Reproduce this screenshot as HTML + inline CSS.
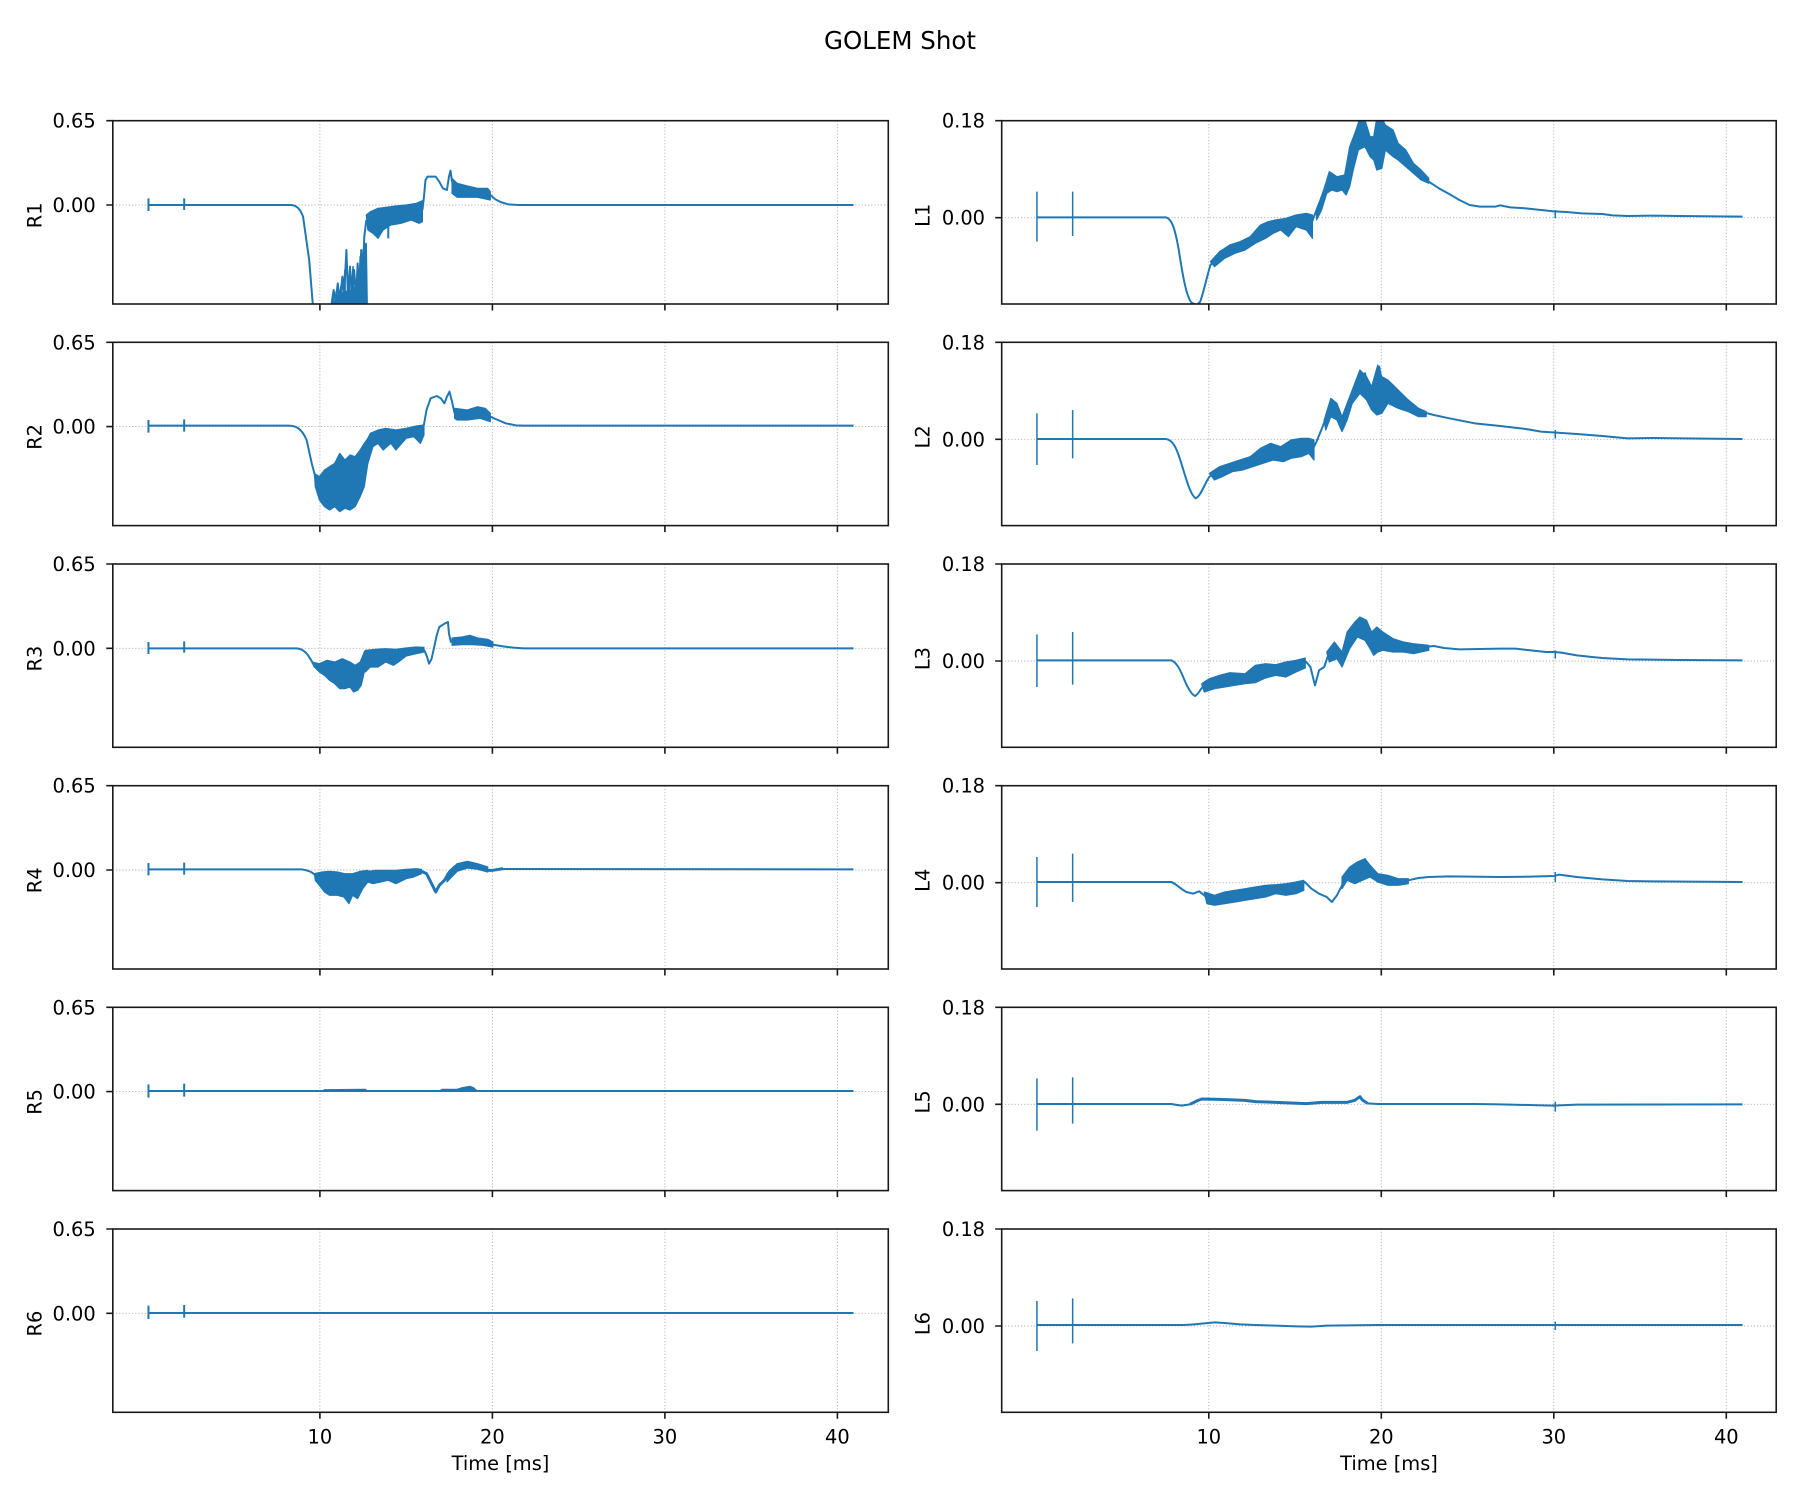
<!DOCTYPE html>
<html><head><meta charset="utf-8"><style>
html,body{margin:0;padding:0;background:#fff;}
svg{display:block;}
text{font-family:"DejaVu Sans","Liberation Sans",sans-serif;fill:#000;}
.tk{font-size:19.4px;}
.g{stroke:#b0b0b0;stroke-width:0.9;stroke-dasharray:1.2,2;fill:none;}
.sp{fill:none;stroke:#1a1a1a;stroke-width:1.6;}
.t{stroke:#1a1a1a;stroke-width:1.6;}
.d path{fill:none;stroke:#1f77b4;stroke-width:2;vector-effect:non-scaling-stroke;stroke-linejoin:round;}
.d path.f{fill:#1f77b4;stroke-width:1.2;}
.d path.k{stroke-width:3;}
.d path.s{stroke-width:1.5;}
</style></head><body>
<svg width="1800" height="1500" viewBox="0 0 1800 1500" xmlns="http://www.w3.org/2000/svg">
<rect width="1800" height="1500" fill="#fff"/>
<defs>
<clipPath id="c00"><rect x="112.8" y="120.7" width="775.5" height="183.3"/></clipPath>
<clipPath id="c10"><rect x="112.8" y="342.3" width="775.5" height="183.3"/></clipPath>
<clipPath id="c20"><rect x="112.8" y="564" width="775.5" height="183.3"/></clipPath>
<clipPath id="c30"><rect x="112.8" y="785.7" width="775.5" height="183.3"/></clipPath>
<clipPath id="c40"><rect x="112.8" y="1007.3" width="775.5" height="183.3"/></clipPath>
<clipPath id="c50"><rect x="112.8" y="1229" width="775.5" height="183.3"/></clipPath>
<clipPath id="c01"><rect x="1001.7" y="120.7" width="774.5" height="183.3"/></clipPath>
<clipPath id="c11"><rect x="1001.7" y="342.3" width="774.5" height="183.3"/></clipPath>
<clipPath id="c21"><rect x="1001.7" y="564" width="774.5" height="183.3"/></clipPath>
<clipPath id="c31"><rect x="1001.7" y="785.7" width="774.5" height="183.3"/></clipPath>
<clipPath id="c41"><rect x="1001.7" y="1007.3" width="774.5" height="183.3"/></clipPath>
<clipPath id="c51"><rect x="1001.7" y="1229" width="774.5" height="183.3"/></clipPath>
</defs>

<text x="900" y="49" text-anchor="middle" style="font-size:24.5px">GOLEM Shot</text>

<!-- GRID -->
<g class="g">
<path d="M319.9,120.7V304M492.4,120.7V304M664.9,120.7V304M837.4,120.7V304M112.8,205H888.3"/>
<path d="M319.9,342.3V525.6M492.4,342.3V525.6M664.9,342.3V525.6M837.4,342.3V525.6M112.8,426.6H888.3"/>
<path d="M319.9,564V747.3M492.4,564V747.3M664.9,564V747.3M837.4,564V747.3M112.8,648.3H888.3"/>
<path d="M319.9,785.7V969M492.4,785.7V969M664.9,785.7V969M837.4,785.7V969M112.8,870H888.3"/>
<path d="M319.9,1007.3V1190.6M492.4,1007.3V1190.6M664.9,1007.3V1190.6M837.4,1007.3V1190.6M112.8,1091.6H888.3"/>
<path d="M319.9,1229V1412.3M492.4,1229V1412.3M664.9,1229V1412.3M837.4,1229V1412.3M112.8,1313.3H888.3"/>
<path d="M1208.8,120.7V304M1381.3,120.7V304M1553.8,120.7V304M1726.3,120.7V304M1001.7,217.7H1776.2"/>
<path d="M1208.8,342.3V525.6M1381.3,342.3V525.6M1553.8,342.3V525.6M1726.3,342.3V525.6M1001.7,439.3H1776.2"/>
<path d="M1208.8,564V747.3M1381.3,564V747.3M1553.8,564V747.3M1726.3,564V747.3M1001.7,661H1776.2"/>
<path d="M1208.8,785.7V969M1381.3,785.7V969M1553.8,785.7V969M1726.3,785.7V969M1001.7,882.7H1776.2"/>
<path d="M1208.8,1007.3V1190.6M1381.3,1007.3V1190.6M1553.8,1007.3V1190.6M1726.3,1007.3V1190.6M1001.7,1104.3H1776.2"/>
<path d="M1208.8,1229V1412.3M1381.3,1229V1412.3M1553.8,1229V1412.3M1726.3,1229V1412.3M1001.7,1326H1776.2"/>
</g>

<!-- R1 -->
<g clip-path="url(#c00)"><g class="d" transform="translate(100,110) scale(0.5102,0.33333)">
<path d="M95,285 L375,285 C385,287 392,295 398,320 L410,450 L418,600"/>
<path d="M452,600 L458,540 L462,575 L466,520 L470,578 L475,500 L478,570 L483,420 L486,560 L490,470 L494,575 L498,480 L502,560 L505,460 L508,540 L512,420 L515,500 L518,380 L522,330"/>
<path class="s" d="M455,600 L457,560 L460,600 L463,545 L467,600 L472,530 L474,600 L480,480 L481,600 L488,500 L490,600 L496,470 L497,600 L503,520 L506,600 L510,440 L511,600 L516,420 L517,600 L519,400 L520,600"/>
<path class="f" d="M455,590 L465,555 L480,545 L495,540 L505,520 L515,470 L522,400 L524,590 Z"/>
<path class="f" d="M522,315 L530,305 L545,295 L560,292 L580,288 L600,285 L620,280 L632,272 L632,335 L625,340 L610,330 L590,340 L570,345 L555,360 L545,385 L535,370 L525,360 Z"/>
<path d="M565,340 L565,385 M627,320 L627,340 M548,340 L548,360"/>
<path d="M632,300 L635,260 L638,210 L642,200 L658,200 L665,215 L672,235 L680,240 L684,200 L687,182 L690,215"/>
<path class="f" d="M690,205 L700,220 L720,228 L740,235 L760,235 L765,245 L765,270 L740,262 L720,262 L700,262 L690,250 Z"/>
<path d="M765,255 L775,268 L785,276 L800,283 L820,285 L1477,285"/>
<path d="M95,265 L95,303 M165,265 L165,300"/>
</g></g>

<!-- R2 -->
<g clip-path="url(#c10)"><g class="d" transform="translate(100,110) scale(0.5102,0.33333)">
<path d="M95,947 L370,947 C385,948 395,955 405,990 L415,1060 L422,1100"/>
<path class="f" d="M420,1090 L430,1100 L440,1080 L450,1070 L460,1060 L465,1045 L470,1030 L480,1050 L490,1035 L500,1040 L510,1020 L518,1000 L525,985 L525,1060 L518,1130 L510,1160 L500,1190 L490,1200 L480,1195 L470,1205 L460,1190 L450,1200 L440,1190 L430,1170 L422,1130 Z"/>
<path class="f" d="M525,985 L530,970 L545,960 L560,955 L580,960 L600,955 L620,948 L635,945 L635,975 L628,1000 L615,980 L600,985 L580,1020 L570,1000 L555,1020 L545,1000 L535,1010 L525,1060 Z"/>
<path d="M633,960 L640,900 L648,865 L660,858 L668,865 L675,880 L680,860 L685,845 L690,875 L695,910"/>
<path class="f" d="M695,895 L720,900 L740,890 L755,895 L765,910 L765,935 L745,925 L720,930 L700,930 L695,925 Z"/>
<path d="M765,920 L780,930 L795,940 L815,946 L830,947 L1477,947"/>
<path d="M95,930 L95,968 M165,928 L165,965"/>
</g></g>

<!-- R3 -->
<g clip-path="url(#c20)"><g class="d" transform="translate(100,552) scale(0.5102,0.33333)">
<path d="M95,289 L385,289 C395,290 405,300 412,320 L420,340"/>
<path class="f" d="M415,330 L430,335 L445,325 L460,330 L475,320 L490,330 L500,340 L510,330 L518,300 L518,360 L512,400 L505,415 L497,420 L490,405 L480,410 L470,410 L460,395 L450,385 L440,370 L430,360 L420,345 Z"/>
<path class="f" d="M518,300 L520,295 L540,292 L560,290 L580,292 L600,288 L620,285 L635,286 L635,300 L620,305 L600,312 L585,330 L575,340 L560,330 L545,345 L530,345 L520,360 Z"/>
<path d="M635,293 L640,310 L645,335 L650,320 L660,250 L665,225 L675,215 L682,210 L684,245 L688,272"/>
<path class="f" d="M690,258 L710,255 L725,250 L740,258 L760,262 L770,270 L770,285 L750,280 L730,278 L710,278 L690,280 Z"/>
<path d="M770,278 L790,283 L810,287 L830,289 L1477,289"/>
<path d="M95,270 L95,306 M165,268 L165,302"/>
</g></g>

<!-- R4 -->
<g clip-path="url(#c30)"><g class="d" transform="translate(100,552) scale(0.5102,0.33333)">
<path d="M95,952 L395,952 C410,955 418,962 425,975"/>
<path class="f" d="M420,965 L435,960 L450,958 L465,960 L480,965 L495,965 L510,958 L525,955 L525,990 L515,1010 L505,1040 L495,1030 L488,1055 L478,1035 L465,1030 L450,1030 L440,1020 L430,1000 L422,985 Z"/>
<path class="f" d="M525,958 L540,955 L560,955 L580,955 L600,952 L620,950 L630,952 L630,965 L615,975 L600,980 L580,995 L565,985 L550,990 L535,995 L525,990 Z"/>
<path class="k" d="M630,958 L640,965 L650,995 L658,1020 L665,1000 L675,985 L685,960 L695,945 L705,938 L718,932 L730,935 L745,945 L760,955 L770,955 L790,950"/>
<path class="f" d="M680,965 L700,935 L720,928 L740,935 L760,945 L760,960 L740,952 L720,948 L700,958 L680,990 Z"/>
<path d="M790,951 L1477,952"/>
<path d="M95,933 L95,970 M165,932 L165,968"/>
</g></g>

<!-- R5 -->
<g clip-path="url(#c40)"><g class="d" transform="translate(100,995) scale(0.5102,0.33333)">
<path d="M95,288 L1477,288"/>
<path class="f" d="M435,289 L440,284 L520,283 L525,289 Z M665,289 L670,283 L700,283 L710,278 L725,274 L732,278 L740,289 Z"/>
<path d="M95,268 L95,308 M165,266 L165,305"/>
</g></g>

<!-- R6 -->
<g clip-path="url(#c50)"><g class="d" transform="translate(100,995) scale(0.5102,0.33333)">
<path d="M95,954 L1477,954"/>
<path d="M95,932 L95,972 M165,930 L165,968"/>
</g></g>

<!-- L1 -->
<g clip-path="url(#c01)"><g class="d" transform="translate(990,110) scale(0.5102,0.33333)">
<path d="M92,322 L345,322 C355,325 362,350 370,420 C378,500 385,560 395,578 L405,585 L412,575 C420,540 425,500 432,465 L445,445 L470,420 L490,405 L520,380 L545,350 L560,345 L580,350 L600,335 L620,325 L630,340 L635,320 L645,280 L655,250 L662,205 L670,205 L680,220 L690,215 L698,240 L705,150 L712,120 L720,60 L728,30 L738,90 L745,120 L752,140 L758,60 L762,25 L768,60 L775,80 L785,70 L795,120 L805,110 L815,150 L825,165 L840,195 L860,215 L880,235 L900,252 L920,270 L940,285 L960,290 L990,290 L1000,286 L1020,292 L1050,295 L1080,300 L1105,304 L1130,306 L1160,310 L1200,312 L1220,316 L1250,318 L1300,317 L1350,318 L1475,320"/>
<path class="f" d="M432,455 L450,425 L470,405 L490,395 L510,380 L530,345 L545,335 L560,330 L580,325 L600,315 L620,310 L632,315 L632,385 L620,360 L600,350 L585,380 L570,360 L555,370 L540,385 L520,400 L500,420 L480,430 L460,445 L440,470 Z"/>
<path class="f" d="M640,300 L655,235 L665,185 L680,200 L695,195 L705,110 L715,70 L725,25 L735,30 L745,80 L752,80 L758,25 L768,25 L775,45 L790,60 L800,100 L815,120 L830,160 L845,180 L860,205 L860,220 L845,210 L830,190 L815,170 L800,150 L790,140 L775,120 L768,175 L758,180 L752,150 L745,140 L735,110 L722,120 L712,180 L705,230 L698,255 L690,240 L680,245 L670,240 L660,250 L650,300 L640,330 Z"/>
<path class="s" d="M92,245 L92,395 M162,245 L162,378 M1108,300 L1108,325"/>
</g></g>

<!-- L2 -->
<g clip-path="url(#c11)"><g class="d" transform="translate(990,110) scale(0.5102,0.33333)">
<path d="M92,987 L345,987 C358,990 365,1010 375,1060 C385,1110 393,1155 403,1165 C412,1160 418,1130 430,1100 L450,1085 L470,1075 L495,1068 L520,1060 L540,1035 L560,1025 L580,1020 L600,1010 L620,1000 L632,1020 L640,995 L652,950 L665,895 L675,880 L682,930 L688,955 L695,920 L710,870 L722,800 L735,790 L745,850 L752,890 L758,860 L763,770 L768,820 L780,830 L795,850 L810,870 L825,895 L845,905 L870,915 L900,925 L950,940 L1000,948 L1050,957 L1080,965 L1110,968 L1150,972 L1200,978 L1250,985 L1300,984 L1400,986 L1475,987"/>
<path class="f" d="M430,1090 L450,1070 L470,1060 L490,1050 L510,1040 L530,1015 L550,1000 L570,1010 L590,990 L610,985 L625,985 L635,990 L635,1050 L625,1030 L610,1040 L590,1045 L575,1055 L555,1050 L535,1060 L515,1070 L495,1080 L475,1085 L455,1100 L440,1110 Z"/>
<path class="f" d="M655,930 L668,865 L680,880 L690,920 L700,880 L715,820 L725,780 L738,800 L748,830 L760,765 L768,800 L780,810 L800,840 L820,870 L840,895 L855,905 L855,920 L840,920 L820,905 L800,895 L780,880 L768,910 L758,915 L748,900 L738,870 L725,850 L710,880 L700,930 L690,965 L680,930 L668,920 L658,960 Z"/>
<path class="s" d="M92,910 L92,1065 M162,900 L162,1045 M1108,960 L1108,985"/>
</g></g>

<!-- L3 -->
<g clip-path="url(#c21)"><g class="d" transform="translate(990,552) scale(0.5102,0.33333)">
<path d="M92,325 L355,325 C365,330 372,350 380,380 C388,410 395,428 402,432 C410,425 412,410 420,400 L440,390 L470,385 L500,380 L520,362 L550,345 L580,345 L600,335 L620,330 L628,345 L637,400 L645,355 L655,345 L665,300 L678,285 L685,310 L690,340 L695,300 L705,250 L715,225 L725,200 L735,215 L745,260 L752,280 L760,240 L768,250 L780,260 L800,275 L815,290 L830,285 L850,285 L870,282 L890,288 L920,292 L960,291 L1000,290 L1030,290 L1060,295 L1090,300 L1105,300 L1120,302 L1150,310 L1180,315 L1200,318 L1250,322 L1350,324 L1475,325"/>
<path class="f" d="M415,395 L430,380 L450,370 L470,362 L500,365 L520,340 L540,335 L560,338 L580,330 L600,325 L618,318 L618,348 L600,360 L580,375 L560,370 L540,378 L520,392 L500,395 L480,400 L460,405 L440,410 L420,420 Z"/>
<path class="f" d="M660,300 L675,270 L690,300 L700,240 L715,210 L725,195 L738,205 L748,240 L758,225 L770,240 L790,260 L810,270 L830,275 L860,280 L860,295 L830,305 L810,300 L790,300 L770,295 L760,300 L752,310 L745,290 L735,265 L720,255 L705,290 L690,345 L680,320 L665,330 Z"/>
<path class="s" d="M92,247 L92,405 M162,240 L162,398 M1108,295 L1108,320"/>
</g></g>

<!-- L4 -->
<g clip-path="url(#c31)"><g class="d" transform="translate(990,552) scale(0.5102,0.33333)">
<path d="M92,990 L355,990 C365,995 372,1010 385,1020 L398,1025 L410,1018 L420,1030 L430,1045 L450,1040 L470,1035 L500,1030 L520,1020 L550,1015 L580,1012 L600,1000 L617,990 L630,1010 L645,1025 L660,1035 L670,1050 L680,1030 L690,1000 L700,960 L715,945 L730,935 L740,950 L750,965 L765,975 L780,980 L800,990 L820,985 L840,978 L860,975 L900,973 L1000,975 L1060,974 L1105,972 L1115,968 L1150,975 L1200,982 L1250,987 L1300,988 L1475,990"/>
<path class="f" d="M420,1020 L440,1030 L460,1020 L480,1015 L500,1010 L520,1005 L540,1000 L560,998 L580,995 L600,990 L615,985 L615,1015 L600,1025 L580,1030 L560,1025 L540,1035 L520,1040 L500,1045 L480,1050 L460,1055 L440,1060 L425,1055 Z"/>
<path class="f" d="M690,975 L705,945 L720,930 L735,920 L745,940 L760,965 L780,970 L800,980 L820,980 L820,995 L800,1000 L780,1000 L760,990 L745,975 L730,985 L715,995 L700,985 L690,1010 Z"/>
<path class="s" d="M92,915 L92,1065 M162,905 L162,1050 M1108,960 L1108,990"/>
</g></g>

<!-- L5 -->
<g clip-path="url(#c41)"><g class="d" transform="translate(990,995) scale(0.5102,0.33333)">
<path d="M92,327 L355,327 L375,332 L392,328"/>
<path class="k" d="M392,328 L405,318 L415,312 L450,313 L500,316 L520,320 L560,322 L590,324 L620,326 L650,322 L680,322 L700,322 L715,316 L725,305 L730,315 L740,325"/>
<path d="M740,325 L760,327 L950,327 L1000,328 L1080,331 L1105,332 L1150,329 L1475,328"/>
<path class="s" d="M92,250 L92,407 M162,247 L162,386 M1108,320 L1108,350"/>
</g></g>

<!-- L6 -->
<g clip-path="url(#c51)"><g class="d" transform="translate(990,995) scale(0.5102,0.33333)">
<path d="M92,990 L380,990 L400,988 L420,985 L440,982 L460,984 L490,988 L520,990 L560,992 L600,994 L630,995 L660,992 L700,991 L760,990 L800,990 L1105,990 L1475,990"/>
<path class="s" d="M92,918 L92,1068 M162,910 L162,1045 M1108,980 L1108,1005"/>
</g></g>

<!-- SPINES -->
<g class="sp">
<rect x="112.8" y="120.7" width="775.5" height="183.3"/>
<rect x="112.8" y="342.3" width="775.5" height="183.3"/>
<rect x="112.8" y="564" width="775.5" height="183.3"/>
<rect x="112.8" y="785.7" width="775.5" height="183.3"/>
<rect x="112.8" y="1007.3" width="775.5" height="183.3"/>
<rect x="112.8" y="1229" width="775.5" height="183.3"/>
<rect x="1001.7" y="120.7" width="774.5" height="183.3"/>
<rect x="1001.7" y="342.3" width="774.5" height="183.3"/>
<rect x="1001.7" y="564" width="774.5" height="183.3"/>
<rect x="1001.7" y="785.7" width="774.5" height="183.3"/>
<rect x="1001.7" y="1007.3" width="774.5" height="183.3"/>
<rect x="1001.7" y="1229" width="774.5" height="183.3"/>
</g>

<!-- TICKS -->
<g class="t">
<path d="M319.9,304v6.5M492.4,304v6.5M664.9,304v6.5M837.4,304v6.5M1208.8,304v6.5M1381.3,304v6.5M1553.8,304v6.5M1726.3,304v6.5"/>
<path d="M319.9,525.6v6.5M492.4,525.6v6.5M664.9,525.6v6.5M837.4,525.6v6.5M1208.8,525.6v6.5M1381.3,525.6v6.5M1553.8,525.6v6.5M1726.3,525.6v6.5"/>
<path d="M319.9,747.3v6.5M492.4,747.3v6.5M664.9,747.3v6.5M837.4,747.3v6.5M1208.8,747.3v6.5M1381.3,747.3v6.5M1553.8,747.3v6.5M1726.3,747.3v6.5"/>
<path d="M319.9,969v6.5M492.4,969v6.5M664.9,969v6.5M837.4,969v6.5M1208.8,969v6.5M1381.3,969v6.5M1553.8,969v6.5M1726.3,969v6.5"/>
<path d="M319.9,1190.6v6.5M492.4,1190.6v6.5M664.9,1190.6v6.5M837.4,1190.6v6.5M1208.8,1190.6v6.5M1381.3,1190.6v6.5M1553.8,1190.6v6.5M1726.3,1190.6v6.5"/>
<path d="M319.9,1412.3v6.5M492.4,1412.3v6.5M664.9,1412.3v6.5M837.4,1412.3v6.5M1208.8,1412.3v6.5M1381.3,1412.3v6.5M1553.8,1412.3v6.5M1726.3,1412.3v6.5"/>
<path d="M112.8,120.7h-6.5M112.8,205h-6.5M112.8,342.3h-6.5M112.8,426.6h-6.5M112.8,564h-6.5M112.8,648.3h-6.5M112.8,785.7h-6.5M112.8,870h-6.5M112.8,1007.3h-6.5M112.8,1091.6h-6.5M112.8,1229h-6.5M112.8,1313.3h-6.5"/>
<path d="M1001.7,120.7h-6.5M1001.7,217.7h-6.5M1001.7,342.3h-6.5M1001.7,439.3h-6.5M1001.7,564h-6.5M1001.7,661h-6.5M1001.7,785.7h-6.5M1001.7,882.7h-6.5M1001.7,1007.3h-6.5M1001.7,1104.3h-6.5M1001.7,1229h-6.5M1001.7,1326h-6.5"/>
</g>

<!-- Y TICK LABELS -->
<g class="tk" text-anchor="end">
<text x="95.7" y="127.7">0.65</text><text x="95.7" y="212">0.00</text>
<text x="95.7" y="349.3">0.65</text><text x="95.7" y="433.6">0.00</text>
<text x="95.7" y="571">0.65</text><text x="95.7" y="655.3">0.00</text>
<text x="95.7" y="792.7">0.65</text><text x="95.7" y="877">0.00</text>
<text x="95.7" y="1014.3">0.65</text><text x="95.7" y="1098.6">0.00</text>
<text x="95.7" y="1236">0.65</text><text x="95.7" y="1320.3">0.00</text>
<text x="985" y="127.7">0.18</text><text x="985" y="224.7">0.00</text>
<text x="985" y="349.3">0.18</text><text x="985" y="446.3">0.00</text>
<text x="985" y="571">0.18</text><text x="985" y="668">0.00</text>
<text x="985" y="792.7">0.18</text><text x="985" y="889.7">0.00</text>
<text x="985" y="1014.3">0.18</text><text x="985" y="1111.3">0.00</text>
<text x="985" y="1236">0.18</text><text x="985" y="1333">0.00</text>
</g>

<!-- X TICK LABELS -->
<g class="tk" text-anchor="middle">
<text x="319.9" y="1443.5">10</text><text x="492.4" y="1443.5">20</text><text x="664.9" y="1443.5">30</text><text x="837.4" y="1443.5">40</text>
<text x="1208.8" y="1443.5">10</text><text x="1381.3" y="1443.5">20</text><text x="1553.8" y="1443.5">30</text><text x="1726.3" y="1443.5">40</text>
<text x="500.5" y="1470">Time [ms]</text>
<text x="1389" y="1470">Time [ms]</text>
</g>

<!-- Y LABELS -->
<g class="tk" text-anchor="middle">
<text transform="translate(41.5,215.3) rotate(-90)">R1</text>
<text transform="translate(41.5,436.9) rotate(-90)">R2</text>
<text transform="translate(41.5,658.6) rotate(-90)">R3</text>
<text transform="translate(41.5,880.3) rotate(-90)">R4</text>
<text transform="translate(41.5,1101.9) rotate(-90)">R5</text>
<text transform="translate(41.5,1323.6) rotate(-90)">R6</text>
<text transform="translate(929.5,215.3) rotate(-90)">L1</text>
<text transform="translate(929.5,436.9) rotate(-90)">L2</text>
<text transform="translate(929.5,658.6) rotate(-90)">L3</text>
<text transform="translate(929.5,880.3) rotate(-90)">L4</text>
<text transform="translate(929.5,1101.9) rotate(-90)">L5</text>
<text transform="translate(929.5,1323.6) rotate(-90)">L6</text>
</g>
</svg>
</body></html>
